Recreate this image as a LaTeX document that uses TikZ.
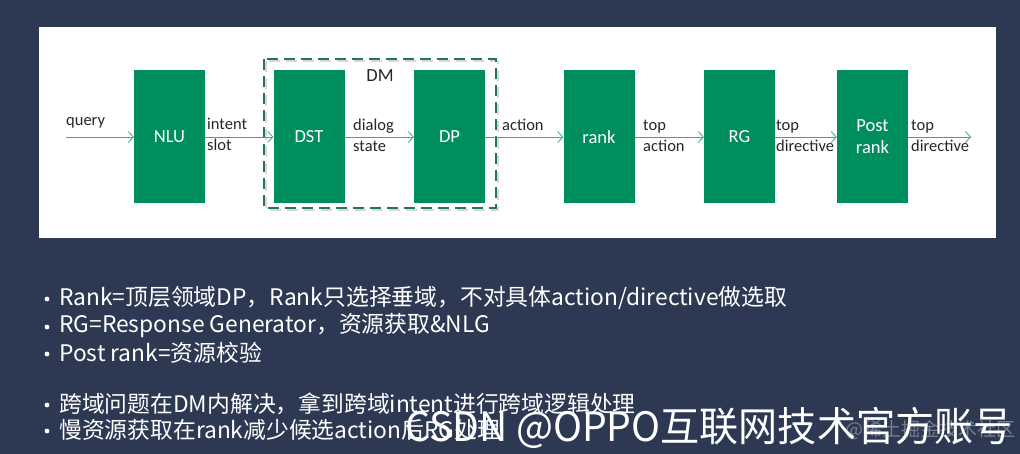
\documentclass[tikz,border=0pt]{standalone}
\usepackage{fontspec}
\setmainfont{Carlito}
\newfontfamily\cjk{Noto Sans CJK SC}
\usetikzlibrary{arrows.meta}
\definecolor{slidebg}{RGB}{45,57,82}
\definecolor{boxgreen}{RGB}{0,142,92}
\definecolor{flowgreen}{RGB}{58,168,128}
\definecolor{dmgreen}{RGB}{38,118,84}
\tikzset{
	stage/.style={fill=boxgreen, text=white, minimum width=71pt, minimum height=133pt, inner sep=0pt, align=center, font=\fontsize{18.5}{22}\selectfont},
	flow/.style={draw=flowgreen, line width=0.8pt, -{Straight Barb[length=5pt,width=11pt]}},
	flowtext/.style={anchor=west, align=left, inner sep=0pt, text=black!85, font=\fontsize{16.5}{21}\selectfont},
	bulletline/.style={anchor=west, inner sep=0pt, text=white, font=\cjk\fontsize{22.8}{26}\selectfont},
}

\begin{document}
\begin{tikzpicture}[x=1pt, y=-1pt]
			%%%%% START %%%%%
			
			\useasboundingbox (0, 0) rectangle (1020, 454);
			\fill[slidebg] (0, 0) rectangle (1020, 454);
			\fill[white] (39, 27) rectangle (996, 238);
			
			% DM group
			\draw[black!30, line width=2.5pt, dash pattern=on 11pt off 6pt, opacity=0.5] (266, 61) rectangle (498, 210);
			\draw[dmgreen, line width=2.5pt, dash pattern=on 11pt off 6pt] (264, 59) rectangle (496, 208);
			\node[text=black!85, font=\fontsize{18.5}{22}\selectfont] (dm) at (380, 76) {DM};
			
			\node[stage] (nlu) at (169.5, 137) {NLU};
			\node[stage] (dst) at (309, 137) {DST};
			\node[stage] (dp) at (449.5, 137) {DP};
			\node[stage] (rank) at (599, 137) {rank};
			\node[stage] (rg) at (739.5, 137) {RG};
			\node[stage] (post) at (872.5, 137) {Post\\rank};
			
			\coordinate (query) at (66, 137);
			\coordinate (out) at (971, 137);
			
			\draw[flow] (query) -- (nlu);
			\draw[flow] (nlu) -- (dst);
			\draw[flow] (dst) -- (dp);
			\draw[flow] (dp) -- (rank);
			\draw[flow] (rank) -- (rg);
			\draw[flow] (rg) -- (post);
			\draw[flow] (post) -- (out);
			
			\node[flowtext] (querytext) at (66, 123) {query};
			\node[flowtext] (slottext) at (207, 134.5) {intent\\slot};
			\node[flowtext] (statetext) at (353, 135.5) {dialog\\state};
			\node[flowtext] (actiontext) at (502, 125) {action};
			\node[flowtext] (topaction) at (643, 136) {top\\action};
			\node[flowtext] (topdirective) at (776, 136) {top\\directive};
			\node[flowtext] (outdirective) at (911, 136) {top\\directive};
			
			% notes
			\fill[white] (47, 299) circle (2.4);
			\node[bulletline] (note1) at (59, 298) {Rank=顶层领域DP，Rank只选择垂域，不对具体action/directive做选取};
			\fill[white] (47, 327) circle (2.4);
			\node[bulletline] (note2) at (59, 326) {RG=Response Generator，资源获取\&NLG};
			\fill[white] (47, 354) circle (2.4);
			\node[bulletline] (note3) at (59, 353) {Post rank=资源校验};
			\fill[white] (47, 405) circle (2.4);
			\node[bulletline] (note4) at (59, 404) {跨域问题在DM内解决，拿到跨域intent进行跨域逻辑处理};
			\fill[white] (47, 431) circle (2.4);
			\node[bulletline] (note5) at (59, 430) {慢资源获取在rank减少候选action后RG处理};
			
			% watermarks
			\node[anchor=west, inner sep=0pt, text=white, opacity=0.35, font=\cjk\fontsize{19}{19}\selectfont] (juejin) at (845, 430) {@稀土掘金技术社区};
			\node[anchor=west, inner sep=0pt, text=white, font=\cjk\fontsize{40.5}{40.5}\selectfont] (csdn) at (405, 428) {\scalebox{0.965}[1]{CSDN @OPPO互联网技术官方账号}};
			
			%%%%% END %%%%%
\end{tikzpicture}
\end{document}
